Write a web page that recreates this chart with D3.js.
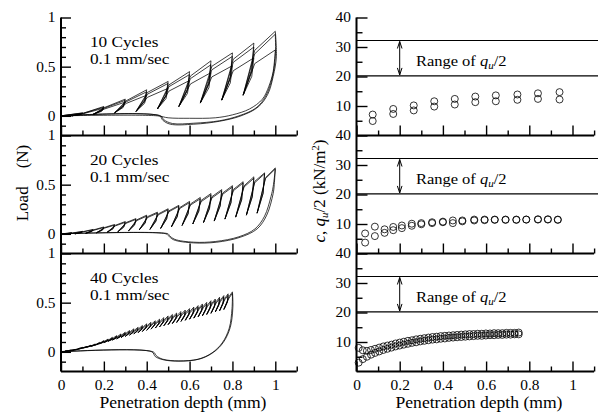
<!DOCTYPE html>
<html>
<head>
<meta charset="utf-8">
<script src="https://cdn.jsdelivr.net/npm/d3@7"></script>
<style>
  body { margin: 0; background: #fff; }
  text { font-family: Liberation Serif, DejaVu Serif, serif; }
</style>
</head>
<body>
<svg id="chart"></svg>
<script>
// ---- ticks / labels ----
var depthTicks = [0, 0.2, 0.4, 0.6, 0.8, 1];
var depthMinor = [0.1, 0.3, 0.5, 0.7, 0.9, 1.1];
var loadTicks = [0, 0.5, 1];
var loadMinor = [-0.1, 0.1, 0.2, 0.3, 0.4, 0.6, 0.7, 0.8, 0.9];
var strengthTicks = [10, 20, 30, 40];
var strengthMinor = [5, 15, 25, 35];
var rangeQu = [20.2, 32.2];
var cycleLabels = ["10 Cycles", "20 Cycles", "40 Cycles"];
var rateLabel = "0.1 mm/sec";

// ---- 10 cycles: peak depth (mm), peak load (N) per specimen, leaf bottom load ----
var depth10 = [0.1, 0.2, 0.3, 0.4, 0.5, 0.6, 0.7, 0.8, 0.9, 1.0];
var peak10a = [0.03, 0.095, 0.17, 0.265, 0.35, 0.45, 0.56, 0.64, 0.74, 0.86];
var peak10b = [0.028, 0.088, 0.158, 0.245, 0.33, 0.42, 0.52, 0.605, 0.70, 0.83];
var peak10c = [0.024, 0.078, 0.14, 0.21, 0.28, 0.36, 0.44, 0.51, 0.59, 0.67];
var valley10 = [0.0, 0.015, 0.03, 0.045, 0.07, 0.095, 0.13, 0.16, 0.21];
var withdraw10a = [[1.0, 0.86], [1.005, 0.6], [0.99, 0.4], [0.965, 0.22], [0.92, 0.09], [0.84, 0.0], [0.74, -0.055], [0.62, -0.085], [0.51, -0.085], [0.475, -0.045], [0.46, 0], [0, 0]];
var withdraw10b = [[1.0, 0.83], [1.0, 0.6], [0.985, 0.38], [0.955, 0.2], [0.91, 0.08], [0.83, 0.0], [0.74, -0.05], [0.62, -0.075], [0.52, -0.078], [0.48, -0.04], [0.465, 0], [0, 0]];
var withdraw10c = [[1.0, 0.67], [0.99, 0.45], [0.97, 0.3], [0.94, 0.17], [0.88, 0.07], [0.8, 0.01], [0.72, -0.02], [0.6, -0.025], [0.5, -0.02], [0.45, 0], [0, 0]];

// ---- 20 cycles ----
var depth20 = [0.05, 0.1, 0.15, 0.2, 0.25, 0.3, 0.35, 0.4, 0.45, 0.5, 0.55, 0.6, 0.65, 0.7, 0.75, 0.8, 0.85, 0.9, 0.95, 1.0];
var peak20a = [0.01, 0.025, 0.045, 0.07, 0.095, 0.125, 0.155, 0.19, 0.22, 0.255, 0.29, 0.33, 0.37, 0.41, 0.45, 0.49, 0.53, 0.58, 0.62, 0.67];
var peak20b = [0.008, 0.022, 0.04, 0.064, 0.088, 0.117, 0.147, 0.18, 0.21, 0.245, 0.28, 0.318, 0.356, 0.396, 0.436, 0.476, 0.517, 0.565, 0.61, 0.66];
var valley20 = [0, 0, 0.005, 0.01, 0.015, 0.02, 0.03, 0.04, 0.045, 0.055, 0.07, 0.085, 0.1, 0.115, 0.13, 0.15, 0.17, 0.19, 0.21];
var withdraw20a = [[1.0, 0.67], [0.995, 0.5], [0.99, 0.41], [0.96, 0.19], [0.915, 0.05], [0.836, -0.035], [0.727, -0.085], [0.618, -0.092], [0.525, -0.06], [0.5, -0.017], [0.49, 0], [0, 0]];
var withdraw20b = [[1.0, 0.66], [0.99, 0.48], [0.98, 0.38], [0.95, 0.18], [0.905, 0.05], [0.83, -0.03], [0.72, -0.078], [0.62, -0.085], [0.53, -0.055], [0.505, -0.015], [0.5, 0], [0, 0]];

// ---- 40 cycles ----
var depth40 = [0.02, 0.04, 0.06, 0.08, 0.1, 0.12, 0.14, 0.16, 0.18, 0.2, 0.22, 0.24, 0.26, 0.28, 0.3, 0.32, 0.34, 0.36, 0.38, 0.4,
               0.42, 0.44, 0.46, 0.48, 0.5, 0.52, 0.54, 0.56, 0.58, 0.6, 0.62, 0.64, 0.66, 0.68, 0.7, 0.72, 0.74, 0.76, 0.78, 0.8];
var peak40a = [0.005, 0.012, 0.02, 0.03, 0.045, 0.055, 0.068, 0.08, 0.097, 0.115, 0.13, 0.148, 0.165, 0.182, 0.2, 0.217, 0.234, 0.25, 0.268, 0.285,
               0.3, 0.316, 0.332, 0.348, 0.365, 0.38, 0.395, 0.41, 0.425, 0.44, 0.455, 0.47, 0.487, 0.503, 0.52, 0.537, 0.555, 0.572, 0.59, 0.61];
var peak40b = [0.004, 0.01, 0.017, 0.026, 0.04, 0.05, 0.062, 0.074, 0.09, 0.107, 0.122, 0.139, 0.156, 0.172, 0.19, 0.206, 0.222, 0.238, 0.256, 0.272,
               0.287, 0.303, 0.318, 0.334, 0.35, 0.365, 0.38, 0.395, 0.41, 0.425, 0.44, 0.455, 0.472, 0.488, 0.505, 0.522, 0.54, 0.557, 0.575, 0.595];
var valley40 = [0.003, 0.009, 0.015, 0.022, 0.033, 0.04, 0.05, 0.058, 0.071, 0.084, 0.095, 0.108, 0.121, 0.133, 0.146, 0.158, 0.171, 0.183, 0.196, 0.208,
                0.219, 0.231, 0.242, 0.254, 0.266, 0.277, 0.288, 0.299, 0.31, 0.321, 0.332, 0.343, 0.356, 0.367, 0.38, 0.392, 0.405, 0.418, 0.431];
var withdraw40a = [[0.8, 0.61], [0.802, 0.454], [0.79, 0.25], [0.758, 0.098], [0.712, -0.004], [0.65, -0.071], [0.556, -0.095], [0.478, -0.081], [0.44, -0.048], [0.424, 0], [0, 0]];
var withdraw40b = [[0.8, 0.595], [0.798, 0.44], [0.785, 0.24], [0.752, 0.09], [0.705, -0.01], [0.64, -0.075], [0.55, -0.092], [0.475, -0.075], [0.445, -0.04], [0.43, 0], [0, 0]];

// ---- c, qu/2 (kN/m2) vs depth ----
var strengthX10 = [0.075, 0.17, 0.265, 0.36, 0.455, 0.55, 0.645, 0.745, 0.84, 0.94];
var strength10a = [7.1, 9.0, 10.2, 11.6, 12.4, 13.2, 13.6, 13.9, 14.3, 14.7];
var strength10b = [4.9, 7.3, 8.5, 9.8, 10.5, 11.3, 11.6, 12.1, 12.4, 12.2];

var strengthX20 = [0.04, 0.085, 0.13, 0.17, 0.21, 0.256, 0.3, 0.35, 0.4, 0.446, 0.49, 0.545, 0.593, 0.64, 0.69, 0.74, 0.786, 0.84, 0.886, 0.932];
var strength20a = [6.8, 9.1, 8.2, 9.0, 9.5, 10.1, 10.3, 10.6, 10.8, 11.2, 11.2, 11.5, 11.5, 11.5, 11.5, 11.5, 11.5, 11.6, 11.6, 11.4];
var strength20b = [3.7, 5.9, 7.0, 7.9, 8.6, 9.4, 9.9, 10.3, 10.6, 10.3, 10.9, 11.2, 11.3, 11.4, 11.4, 11.4, 11.5, 11.5, 11.5, 11.5];

var strengthX40 = [0.01, 0.029, 0.048, 0.067, 0.086, 0.105, 0.124, 0.143, 0.162, 0.181, 0.2, 0.219, 0.238, 0.257, 0.276, 0.295, 0.314, 0.333, 0.352, 0.371,
                   0.39, 0.409, 0.428, 0.447, 0.466, 0.485, 0.504, 0.523, 0.542, 0.561, 0.58, 0.599, 0.618, 0.637, 0.656, 0.675, 0.694, 0.713, 0.732, 0.751];
var strength40a = [8.0, 7.2, 7.0, 7.3, 7.7, 8.1, 8.5, 8.8, 9.1, 9.5, 9.8, 10.1, 10.4, 10.6, 10.9, 11.1, 11.3, 11.5, 11.7, 11.8,
                   12.0, 12.1, 12.2, 12.3, 12.4, 12.5, 12.6, 12.7, 12.7, 12.8, 12.8, 12.9, 12.9, 13.0, 13.0, 13.0, 13.1, 13.1, 13.1, 13.2];
var strength40b = [3.0, 4.2, 5.0, 5.7, 6.3, 6.8, 7.3, 7.7, 8.1, 8.5, 8.8, 9.1, 9.4, 9.7, 9.9, 10.2, 10.4, 10.6, 10.8, 10.9,
                   11.1, 11.2, 11.4, 11.5, 11.6, 11.7, 11.8, 11.9, 12.0, 12.1, 12.1, 12.2, 12.3, 12.3, 12.4, 12.4, 12.5, 12.5, 12.6, 12.6];

var panels = [
  { depth: depth10, peaks: [peak10a, peak10b, peak10c], valley: valley10, withdraw: [withdraw10a, withdraw10b, withdraw10c],
    back: 0.05, rejoin: 0.9, sx: strengthX10, sy: [strength10a, strength10b] },
  { depth: depth20, peaks: [peak20a, peak20b], valley: valley20, withdraw: [withdraw20a, withdraw20b],
    back: 0.035, rejoin: 0.92, sx: strengthX20, sy: [strength20a, strength20b] },
  { depth: depth40, peaks: [peak40a, peak40b], valley: valley40, withdraw: [withdraw40a, withdraw40b],
    back: 0.02, rejoin: 0.95, sx: strengthX40, sy: [strength40a, strength40b] }
];

// ---- layout ----
var W = 598, H = 417;
var panelTop = [17.5, 135.5, 253.5], panelH = 118;
var leftX = d3.scaleLinear().domain([0, 1.1]).range([61, 61 + 1.1 * 214.3]);
var rightX = d3.scaleLinear().domain([0, 1.1]).range([356.5, 356.5 + 1.1 * 216]);
var stretch = 1.1;
var serif = "Liberation Serif";

var svg = d3.select("#chart").attr("width", W).attr("height", H);
svg.append("rect").attr("width", W).attr("height", H).attr("fill", "#fff");

var defs = svg.append("defs");
defs.append("marker")
  .attr("id", "head")
  .attr("viewBox", "-8 -4 10 8")
  .attr("refX", 0).attr("refY", 0)
  .attr("markerWidth", 10).attr("markerHeight", 8)
  .attr("markerUnits", "userSpaceOnUse")
  .attr("orient", "auto-start-reverse")
  .append("path")
  .attr("d", "M-7,-2.3L0,0L-7,2.3")
  .attr("fill", "none")
  .attr("stroke", "#000")
  .attr("stroke-width", 1);

function styleAxis(g) {
  g.attr("font-size", null).attr("font-family", serif);
  g.select(".domain").remove();
  g.selectAll(".tick line").attr("stroke", "#000").attr("stroke-width", 1.4);
  g.selectAll(".tick text")
    .attr("fill", "#000")
    .attr("font-family", serif)
    .attr("font-size", 14)
    .attr("transform", "scale(" + stretch + ",1)");
}

function text(g, x, y, size, anchor, sx) {
  return g.append("text")
    .attr("transform", "translate(" + x + "," + y + ") scale(" + (sx || stretch) + ",1)")
    .attr("font-family", serif)
    .attr("font-size", size)
    .attr("text-anchor", anchor || "start");
}

// loading path: envelope with a narrow unload/reload leaf at every cycle
function cyclePoints(depth, peak, valley, back, rejoin) {
  var pts = [[0, 0]];
  depth.forEach(function(d, i) {
    pts.push([d, peak[i]]);
    if (i < valley.length) {
      var v = valley[i];
      pts.push([d - back * 0.2, v + (peak[i] - v) * 0.5]);
      pts.push([d - back, v]);
      pts.push([d + 0.004, peak[i] * rejoin]);
    }
  });
  return pts;
}

panels.forEach(function(p, i) {
  var top = panelTop[i], bottom = top + panelH;
  var ly = d3.scaleLinear().domain([-0.2, 1]).range([bottom, top]);
  var ry = d3.scaleLinear().domain([0, 40]).range([bottom, top]);
  var last = i === panels.length - 1;

  // ---------- left: load vs depth ----------
  var gl = svg.append("g");

  gl.append("g").attr("transform", "translate(0," + bottom + ")")
    .call(d3.axisBottom(leftX).tickValues(depthMinor).tickSize(-5).tickFormat(""))
    .call(styleAxis);
  gl.append("g").attr("transform", "translate(0," + bottom + ")")
    .call(d3.axisBottom(leftX).tickValues(depthTicks).tickSize(-10).tickPadding(9)
      .tickFormat(last ? String : function() { return ""; }))
    .call(styleAxis);
  gl.append("g").attr("transform", "translate(" + leftX(0) + ",0)")
    .call(d3.axisLeft(ly).tickValues(loadMinor).tickSize(-5).tickFormat(""))
    .call(styleAxis);
  gl.append("g").attr("transform", "translate(" + leftX(0) + ",0)")
    .call(d3.axisLeft(ly).tickValues(loadTicks).tickSize(-10).tickPadding(5).tickFormat(String))
    .call(styleAxis);

  gl.append("line")
    .attr("x1", leftX(0)).attr("x2", leftX(1.1))
    .attr("y1", bottom).attr("y2", bottom)
    .attr("stroke", "#000").attr("stroke-width", 2);

  var loadLine = d3.line().x(function(d) { return leftX(d[0]); }).y(function(d) { return ly(d[1]); });
  var smoothLine = d3.line().curve(d3.curveCatmullRom.alpha(0.5))
    .x(function(d) { return leftX(d[0]); }).y(function(d) { return ly(d[1]); });

  p.peaks.forEach(function(peak) {
    gl.append("path")
      .datum(cyclePoints(p.depth, peak, p.valley, p.back, p.rejoin))
      .attr("fill", "none").attr("stroke", "#000").attr("stroke-width", 0.75)
      .attr("stroke-linejoin", "round")
      .attr("d", loadLine);
  });
  p.withdraw.forEach(function(w) {
    gl.append("path")
      .datum(w)
      .attr("fill", "none").attr("stroke", "#000").attr("stroke-width", 0.75)
      .attr("d", smoothLine);
  });

  text(gl, leftX(0.135), top + 29, 15, "start", 1.15).text(cycleLabels[i]);
  text(gl, leftX(0.135), top + 46, 15, "start", 1.15).text(rateLabel);

  // ---------- right: c, qu/2 vs depth ----------
  var gr = svg.append("g");

  gr.append("g").attr("transform", "translate(0," + bottom + ")")
    .call(d3.axisBottom(rightX).tickValues(depthMinor).tickSize(-5).tickFormat(""))
    .call(styleAxis);
  gr.append("g").attr("transform", "translate(0," + bottom + ")")
    .call(d3.axisBottom(rightX).tickValues(depthTicks).tickSize(-10).tickPadding(9)
      .tickFormat(last ? String : function() { return ""; }))
    .call(styleAxis);
  gr.append("g").attr("transform", "translate(" + rightX(0) + ",0)")
    .call(d3.axisLeft(ry).tickValues(strengthMinor).tickSize(-6).tickFormat(""))
    .call(styleAxis);
  gr.append("g").attr("transform", "translate(" + rightX(0) + ",0)")
    .call(d3.axisLeft(ry).tickValues(strengthTicks).tickSize(-11).tickPadding(5).tickFormat(String))
    .call(styleAxis);

  gr.append("line")
    .attr("x1", rightX(0)).attr("x2", rightX(1.1))
    .attr("y1", bottom).attr("y2", bottom)
    .attr("stroke", "#000").attr("stroke-width", 2);

  gr.selectAll(".range").data(rangeQu).enter().append("line")
    .attr("x1", rightX(0)).attr("x2", rightX(1.12))
    .attr("y1", function(d) { return ry(d); }).attr("y2", function(d) { return ry(d); })
    .attr("stroke", "#000").attr("stroke-width", 1.2);

  gr.append("line")
    .attr("x1", rightX(0.2)).attr("x2", rightX(0.2))
    .attr("y1", ry(rangeQu[1]) + 1).attr("y2", ry(rangeQu[0]) - 1)
    .attr("stroke", "#000").attr("stroke-width", 1)
    .attr("marker-start", "url(#head)").attr("marker-end", "url(#head)");

  var rt = text(gr, rightX(0.275), ry(23.7), 15);
  rt.append("tspan").text("Range of ");
  rt.append("tspan").attr("font-style", "italic").text("q");
  rt.append("tspan").attr("font-style", "italic").attr("font-size", 10).attr("dy", 3).text("u");
  rt.append("tspan").attr("dy", -3).text("/2");

  p.sy.forEach(function(series) {
    gr.selectAll(null).data(series).enter().append("circle")
      .attr("cx", function(d, k) { return rightX(p.sx[k]); })
      .attr("cy", function(d) { return ry(d); })
      .attr("r", 3.5)
      .attr("fill", "none").attr("stroke", "#000").attr("stroke-width", 0.8);
  });
});

// vertical axis lines over all three panels
[leftX(0), rightX(0)].forEach(function(x) {
  svg.append("line")
    .attr("x1", x).attr("x2", x)
    .attr("y1", panelTop[0]).attr("y2", panelTop[2] + panelH)
    .attr("stroke", "#000").attr("stroke-width", 2);
});

// axis titles
text(svg, 183, 408, 16, "middle").text("Penetration depth (mm)");
text(svg, 479, 408, 16, "middle").text("Penetration depth (mm)");

var ll = svg.append("text")
  .attr("transform", "translate(28,183) rotate(-90)")
  .attr("font-family", serif)
  .attr("text-anchor", "middle").attr("font-size", 17);
ll.append("tspan").text("Load");
ll.append("tspan").attr("dx", 18).text("(N)");

var rl = svg.append("text")
  .attr("transform", "translate(325,191) rotate(-90)")
  .attr("font-family", serif)
  .attr("text-anchor", "middle").attr("font-size", 17);
rl.append("tspan").attr("font-style", "italic").text("c");
rl.append("tspan").text(", ");
rl.append("tspan").attr("font-style", "italic").text("q");
rl.append("tspan").attr("font-style", "italic").attr("font-size", 11).attr("dy", 3).text("u");
rl.append("tspan").attr("dy", -3).text("/2 (kN/m");
rl.append("tspan").attr("font-size", 11).attr("dy", -6).text("2");
rl.append("tspan").attr("dy", 6).text(")");
</script>
</body>
</html>
